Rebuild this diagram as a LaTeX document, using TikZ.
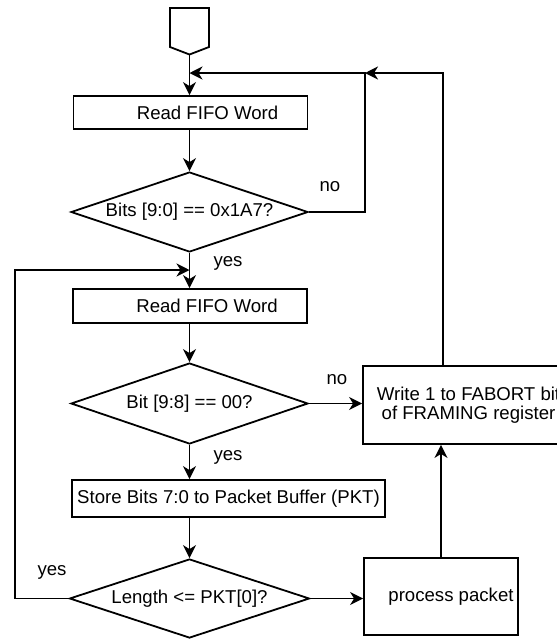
\documentclass[tikz,border=0pt]{standalone}
\usepackage{fontspec}
\setmainfont{Liberation Sans}
\usetikzlibrary{shapes.geometric,arrows.meta}
\begin{document}
\begin{tikzpicture}[x=1pt,y=-1pt,
  line width=1.8pt,
  font=\fontsize{18.6}{21}\selectfont,
  tip/.style={-{Stealth[length=13pt,width=13pt,inset=4pt]}},
  procbox/.style={draw, rectangle, inner sep=0pt},
  decision/.style={draw, diamond, inner sep=0pt, aspect=3},
  lbl/.style={inner sep=0pt, anchor=center}
]
\useasboundingbox (0,0) rectangle (557,641);

% start terminal
\draw (170,8) -- (209,8) -- (209,47) -- (189.5,54.5) -- (170,47) -- cycle;
\coordinate (starttip) at (189.5,54.5);

% process boxes
\node[procbox, minimum width=234pt, minimum height=33pt,
      label={[lbl, xshift=17pt]center:Read FIFO Word}] (read1) at (190.5,112.5) {};
\node[procbox, minimum width=234pt, minimum height=34pt,
      label={[lbl, xshift=17pt]center:Read FIFO Word}] (read2) at (190,306) {};
\node[procbox, minimum width=313pt, minimum height=37pt,
      label={[lbl]center:Store Bits 7:0 to Packet Buffer (PKT)}] (store) at (228.5,498.5) {};
\node[procbox, minimum width=211pt, minimum height=78pt,
      label={[lbl, align=center, font=\fontsize{18.6}{19}\selectfont]center:Write 1 to FABORT bit\\of FRAMING register}] (write) at (468.5,405) {};
\node[procbox, minimum width=154pt, minimum height=77pt,
      label={[lbl, xshift=10pt]center:process packet}] (proc) at (441,596.5) {};

% decisions
\node[decision, minimum width=237pt, minimum height=80pt,
      label={[lbl]center:Bits [9:0] == 0x1A7?}] (dec1) at (189.5,212) {};
\node[decision, minimum width=237pt, minimum height=81pt,
      label={[lbl]center:Bit [9:8] == 00?}] (dec2) at (189.5,403.5) {};
\node[decision, minimum width=240pt, minimum height=79pt,
      label={[lbl]center:Length <= PKT[0]?}] (dec3) at (189.5,598.5) {};

% junction points
\coordinate (join1) at (189.5,73);
\coordinate (topright) at (365,73);
\coordinate (wtop) at (443,366);
\coordinate (join2) at (189.5,270);
\coordinate (leftx) at (15,270);

% main flow
\draw[tip] (starttip) -- (starttip |- read1.north);
\draw[tip] (read1.south -| dec1.north) -- (dec1.north);
\draw[tip] (dec1.south) -- (dec1.south |- read2.north);
\draw[tip] (read2.south -| dec2.north) -- (dec2.north);
\draw[tip] (dec2.south) -- (dec2.south |- store.north);
\draw[tip] (store.south -| dec3.north) -- (dec3.north);

% branches
\draw[tip] (dec1.east) -| (topright) -- (join1);
\draw[tip] (wtop) |- (topright);
\draw[tip] (dec2.east) -- (dec2.east -| write.west);
\draw[tip] (dec3.east) -- (dec3.east -| proc.west);
\draw[tip] (proc.north) -- (proc.north |- write.south);
\draw[tip] (dec3.west) -| (leftx) -- (join2);

% branch labels
\node[lbl] (no1) at (330,187) {no};
\node[lbl] (no2) at (337,380) {no};
\node[lbl] (yes1) at (228,263) {yes};
\node[lbl] (yes2) at (228,457) {yes};
\node[lbl] (yes3) at (52,572) {yes};
\end{tikzpicture}
\end{document}
